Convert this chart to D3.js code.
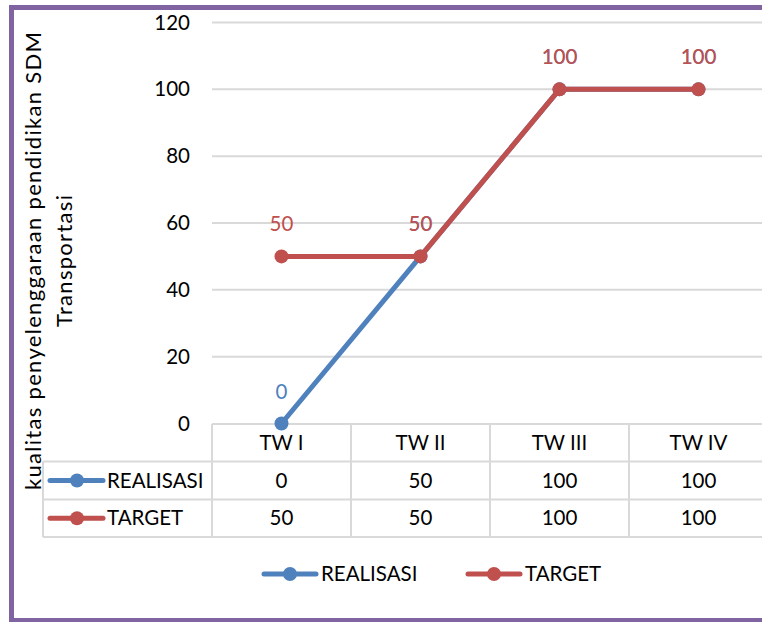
<!DOCTYPE html>
<html><head><meta charset="utf-8">
<script src="https://cdn.jsdelivr.net/npm/d3@7"></script>
<style>body{margin:0;background:#fff}svg{display:block}text{font-family:Lato,"Open Sans",sans-serif}</style>
</head><body><svg id="c" width="762" height="622"></svg>
<script>
const categories = ["TW I", "TW II", "TW III", "TW IV"];
const realisasi = [0, 50, 100, 100];
const target = [50, 50, 100, 100];
const yTicks = [0, 20, 40, 60, 80, 100, 120];
const seriesNames = ["REALISASI", "TARGET"];
const colors = ["#4F81BD", "#C0504D"];
const yTitle = ["kualitas penyelenggaraan pendidikan SDM", "Transportasi"];

const FS = 20.5;
const svg = d3.select("#c");
const x = d3.scaleBand().domain(categories).range([212, 768]);
const y = d3.scaleLinear().domain([0, 120]).range([423.5, 22.5]);
const grid = "#D9D9D9";

// gridlines
svg.append("g").selectAll("line").data(yTicks.filter(d => d > 0)).join("line")
  .attr("x1", 212).attr("x2", 762).attr("y1", d => y(d)).attr("y2", d => y(d))
  .attr("stroke", grid).attr("stroke-width", 2);

// y tick labels
const yAxis = d3.axisLeft(y).tickValues(yTicks).tickSize(0).tickPadding(22);
const ga = svg.append("g").attr("transform", "translate(212,0)").call(yAxis);
ga.select(".domain").remove();
ga.selectAll("text").attr("font-size", FS).attr("fill", "#000").style("font-family", "Lato,sans-serif");

// y title
const tt = svg.append("text").attr("transform", "translate(41,261) rotate(-90)")
  .attr("text-anchor", "middle").attr("font-size", 22).attr("fill", "#000");
const spans = tt.selectAll("tspan").data(yTitle).join("tspan").attr("x", 0)
  .attr("dy", (d, i) => i === 0 ? 0 : 31).text(d => d);
const len0 = spans.nodes()[0].getComputedTextLength();
const k = 458 / len0;
spans.each(function () {
  const l = this.getComputedTextLength();
  d3.select(this).attr("textLength", l * k).attr("lengthAdjust", "spacing");
});

// data table
const rowTop = [424, 461.5, 499.5, 537];
const tbl = svg.append("g").attr("stroke", grid).attr("stroke-width", 2);
tbl.append("line").attr("x1", 212).attr("x2", 762).attr("y1", rowTop[0]).attr("y2", rowTop[0]);
rowTop.slice(1).forEach(r => tbl.append("line").attr("x1", 43).attr("x2", 762).attr("y1", r).attr("y2", r));
tbl.append("line").attr("x1", 43).attr("x2", 43).attr("y1", rowTop[1]).attr("y2", rowTop[3]);
categories.forEach(c => tbl.append("line").attr("x1", x(c)).attr("x2", x(c)).attr("y1", rowTop[0]).attr("y2", rowTop[3]));

svg.append("g").selectAll("text").data(categories).join("text")
  .attr("x", d => x(d) + x.bandwidth() / 2).attr("y", (rowTop[0] + rowTop[1]) / 2 + 7)
  .attr("text-anchor", "middle").attr("font-size", FS).text(d => d);

const series = [realisasi, target];
series.forEach((vals, si) => {
  const cy = (rowTop[si + 1] + rowTop[si + 2]) / 2;
  svg.append("g").selectAll("text").data(vals).join("text")
    .attr("x", (d, i) => x(categories[i]) + x.bandwidth() / 2).attr("y", cy + 7)
    .attr("text-anchor", "middle").attr("font-size", FS).text(d => d);
  const g = svg.append("g");
  g.append("line").attr("x1", 50).attr("x2", 103).attr("y1", cy).attr("y2", cy)
    .attr("stroke", colors[si]).attr("stroke-width", 5).attr("stroke-linecap", "round");
  g.append("circle").attr("cx", 77).attr("cy", cy).attr("r", 7).attr("fill", colors[si]);
  g.append("text").attr("x", 107).attr("y", cy + 7).attr("font-size", FS).text(seriesNames[si]);
});

// lines
const line = d3.line().x((d, i) => x(categories[i]) + x.bandwidth() / 2).y(d => y(d));
series.forEach((vals, si) => {
  const g = svg.append("g");
  g.append("path").datum(vals).attr("d", line).attr("fill", "none")
    .attr("stroke", colors[si]).attr("stroke-width", 5).attr("stroke-linejoin", "round").attr("stroke-linecap", "round");
  g.selectAll("circle").data(vals).join("circle")
    .attr("cx", (d, i) => x(categories[i]) + x.bandwidth() / 2).attr("cy", d => y(d)).attr("r", 7).attr("fill", colors[si]);
});
series.forEach((vals, si) => {
  svg.append("g").selectAll("text").data(vals).join("text")
    .attr("x", (d, i) => x(categories[i]) + x.bandwidth() / 2).attr("y", d => y(d) - 25)
    .attr("text-anchor", "middle").attr("font-size", FS).attr("fill", colors[si]).text(d => d);
});

// legend
const legX = [262, 466];
seriesNames.forEach((n, si) => {
  const g = svg.append("g").attr("transform", `translate(${legX[si]},574)`);
  g.append("line").attr("x1", 2).attr("x2", 54).attr("y1", 0).attr("y2", 0)
    .attr("stroke", colors[si]).attr("stroke-width", 5).attr("stroke-linecap", "round");
  g.append("circle").attr("cx", 28).attr("cy", 0).attr("r", 7).attr("fill", colors[si]);
  g.append("text").attr("x", 59).attr("y", 7).attr("font-size", FS).text(n);
});

// border
svg.append("rect").attr("x", 11.5).attr("y", 7.5).attr("width", 800).attr("height", 613)
  .attr("fill", "none").attr("stroke", "#8064A2").attr("stroke-width", 5);
</script></body></html>
